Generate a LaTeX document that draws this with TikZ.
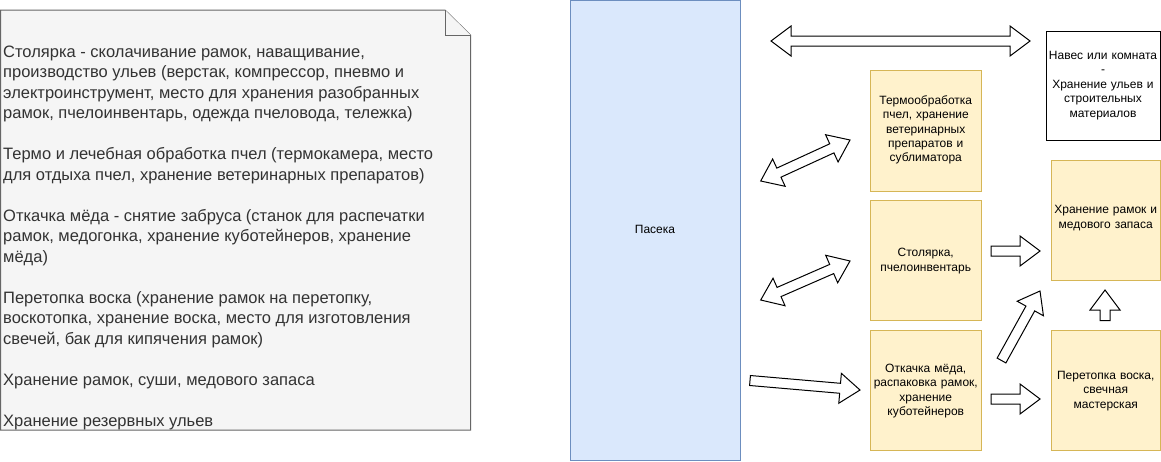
\documentclass[tikz,border=0pt]{standalone}
\usepackage{fontspec}
\setmainfont{Liberation Sans}
\usetikzlibrary{calc}
\definecolor{notefill}{HTML}{F5F5F5}
\definecolor{notedraw}{HTML}{666666}
\definecolor{notetext}{HTML}{333333}
\definecolor{bluefill}{HTML}{DAE8FC}
\definecolor{bluedraw}{HTML}{6C8EBF}
\definecolor{yelfill}{HTML}{FFF2CC}
\definecolor{yeldraw}{HTML}{D6B656}
\tikzset{
  yelbox/.style={draw=yeldraw, fill=yelfill, line width=1pt},
  boxtext/.style={align=center, font=\fontsize{12}{14.4}\selectfont, inner sep=0pt, text width=#1},
  barrow/.style={draw=black, fill=white, line width=1pt, line join=miter},
}
\newcommand\blockarrow[2]{%
  \coordinate (hb) at ($(#2)!20pt!(#1)$);
  \draw[barrow] ($(#1)!5pt!90:(#2)$) -- ($(hb)!5pt!-90:(#1)$) -- ($(hb)!15pt!-90:(#1)$) -- (#2)
    -- ($(hb)!15pt!90:(#1)$) -- ($(hb)!5pt!90:(#1)$) -- ($(#1)!5pt!-90:(#2)$) -- cycle;}
\newcommand\dblarrow[2]{%
  \coordinate (ha) at ($(#1)!20pt!(#2)$);
  \coordinate (hb) at ($(#2)!20pt!(#1)$);
  \draw[barrow] (#1) -- ($(ha)!15pt!90:(#2)$) -- ($(ha)!5pt!90:(#2)$) -- ($(hb)!5pt!-90:(#1)$)
    -- ($(hb)!15pt!-90:(#1)$) -- (#2) -- ($(hb)!15pt!90:(#1)$) -- ($(hb)!5pt!90:(#1)$)
    -- ($(ha)!5pt!-90:(#2)$) -- ($(ha)!15pt!-90:(#2)$) -- cycle;}
\begin{document}
\begin{tikzpicture}[x=1pt,y=-1pt]
\useasboundingbox[fill=white] (0,0) rectangle (1161,461);
% note
\draw[fill=notefill, draw=notedraw, line width=1pt, line join=miter]
  (0.5,10) -- (445,10) -- (470.5,35) -- (470.5,430) -- (0.5,430) -- cycle;
\draw[fill=notefill, draw=notedraw, line width=1pt] (445,10) -- (445,35) -- (470.5,35);
\node[anchor=base west, inner sep=0pt, align=left, text=notetext,
      font=\fontsize{16.5}{20.5}\selectfont] (notetxt) at (3,426)
 {Столярка - сколачивание рамок, наващивание,\\
  производство ульев (верстак, компрессор, пневмо и\\
  электроинструмент, место для хранения разобранных\\
  рамок, пчелоинвентарь, одежда пчеловода, тележка)\\[20.5pt]
  Термо и лечебная обработка пчел (термокамера, место\\
  для отдыха пчел, хранение ветеринарных препаратов)\\[20.5pt]
  Откачка мёда - снятие забруса (станок для распечатки\\
  рамок, медогонка, хранение куботейнеров, хранение\\
  мёда)\\[20.5pt]
  Перетопка воска (хранение рамок на перетопку,\\
  воскотопка, хранение воска, место для изготовления\\
  свечей, бак для кипячения рамок)\\[20.5pt]
  Хранение рамок, суши, медового запаса\\[20.5pt]
  Хранение резервных ульев};
% apiary
\draw[fill=bluefill, draw=bluedraw, line width=1pt] (570.5,0.5) rectangle (740,460);
\node[font=\fontsize{12}{14.4}\selectfont] (paseka) at (655,229) {Пасека};
% boxes
\draw[draw=black, fill=white, line width=1pt] (1046.5,31.5) rectangle (1160,140);
\node[boxtext=110pt] (naves) at (1103,85.5) {Навес или комната\\-\\Хранение ульев и\\строительных\\материалов};
\draw[yelbox] (870.5,70.5) rectangle (981,191);
\node[boxtext=104pt] (termo) at (925.75,130) {Термообработка\\пчел, хранение\\ветеринарных\\препаратов и\\сублиматора};
\draw[yelbox] (870.5,200.5) rectangle (981,320);
\node[boxtext=104pt] (stol) at (925.75,261) {Столярка,\\пчелоинвентарь};
\draw[yelbox] (870.5,330.5) rectangle (981,450);
\node[boxtext=104pt] (otk) at (925.75,391) {Откачка мёда,\\распаковка рамок,\\хранение\\куботейнеров};
\draw[yelbox] (1051.5,160.5) rectangle (1160,280);
\node[boxtext=104pt] (hran) at (1105.75,218) {Хранение рамок и\\медового запаса};
\draw[yelbox] (1051.5,330.5) rectangle (1160,450);
\node[boxtext=104pt] (peret) at (1105.75,391) {Перетопка воска,\\свечная\\мастерская};
% arrow end points
\coordinate (a1) at (771,41);   \coordinate (b1) at (1030,41);
\coordinate (a2) at (760.7,181); \coordinate (b2) at (850,140);
\coordinate (a3) at (760.7,300); \coordinate (b3) at (850,261);
\coordinate (a4) at (750,380.5); \coordinate (b4) at (860,390);
\coordinate (a5) at (991,251);  \coordinate (b5) at (1040,251);
\coordinate (a6) at (991,399);  \coordinate (b6) at (1040,399);
\coordinate (a7) at (1001.5,360.5); \coordinate (b7) at (1040,291);
\coordinate (a8) at (1105,320.5); \coordinate (b8) at (1105,290);
\dblarrow{a1}{b1}
\dblarrow{a2}{b2}
\dblarrow{a3}{b3}
\blockarrow{a4}{b4}
\blockarrow{a5}{b5}
\blockarrow{a6}{b6}
\blockarrow{a7}{b7}
\blockarrow{a8}{b8}
\end{tikzpicture}
\end{document}
